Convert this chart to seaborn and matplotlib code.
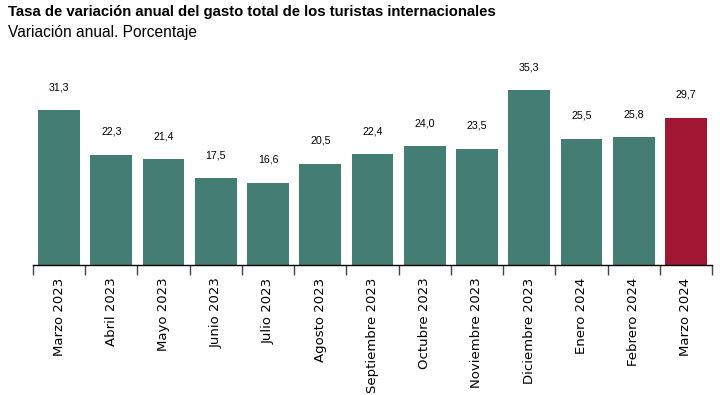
import matplotlib
matplotlib.use("Agg")
import matplotlib.pyplot as plt
import seaborn as sns
import pandas as pd
import numpy as np

meses = ["Marzo 2023", "Abril 2023", "Mayo 2023", "Junio 2023", "Julio 2023",
         "Agosto 2023", "Septiembre 2023", "Octubre 2023", "Noviembre 2023",
         "Diciembre 2023", "Enero 2024", "Febrero 2024", "Marzo 2024"]
variacion = [31.3, 22.3, 21.4, 17.5, 16.6, 20.5, 22.4, 24.0, 23.5, 35.3, 25.5, 25.8, 29.7]

VERDE = "#447d74"
ROJO = "#a11633"


def main():
    sns.set_style("white")
    plt.rcParams["font.family"] = ["Liberation Sans", "DejaVu Sans"]
    plt.rcParams["text.color"] = "black"
    plt.rcParams["xtick.color"] = "black"

    df = pd.DataFrame({"mes": meses, "valor": variacion})
    colores = [VERDE] * (len(meses) - 1) + [ROJO]

    fig = plt.figure(figsize=(7.2, 3.95), dpi=100)
    ax = fig.add_axes([33 / 720, 130 / 395, 679 / 720, 198 / 395])

    sns.barplot(data=df, x="mes", y="valor", hue="mes", palette=colores,
                legend=False, width=0.8, saturation=1, linewidth=0, ax=ax)

    for i, v in enumerate(variacion):
        ax.annotate(f"{v:.1f}".replace(".", ","), (i, v), xytext=(0, 13),
                    textcoords="offset points", ha="center", va="bottom",
                    fontsize=7.7, color="black")

    ax.set_xlim(-0.5, len(meses) - 0.5)
    ax.set_ylim(0, 40)
    ax.set_yticks([])
    ax.set_xlabel("")
    ax.set_ylabel("")
    for s in ["top", "right", "left"]:
        ax.spines[s].set_visible(False)
    ax.spines["bottom"].set_color("black")
    ax.spines["bottom"].set_linewidth(1)

    # etiquetas centradas en las barras, marcas en los limites
    ax.set_xticks(range(len(meses)))
    ax.set_xticklabels(meses, rotation=90, fontsize=9.5,
                       family=["DejaVu Sans"], color="black")
    ax.tick_params(axis="x", which="major", length=0, pad=9)
    ax.set_xticks(np.arange(-0.5, len(meses)), minor=True)
    ax.tick_params(axis="x", which="minor", bottom=True, length=7.5, width=1,
                   color="#444444")

    fig.text(8 / 720, 1 - 12 / 395, "Tasa de variación anual del gasto total de los turistas internacionales",
             fontsize=10.7, fontweight="bold", va="center", color="black")
    fig.text(8 / 720, 1 - 32 / 395, "Variación anual. Porcentaje",
             fontsize=11.2, va="center", color="black")

    fig.savefig("out.png", dpi=100)
    plt.close(fig)


if __name__ == "__main__":
    main()
